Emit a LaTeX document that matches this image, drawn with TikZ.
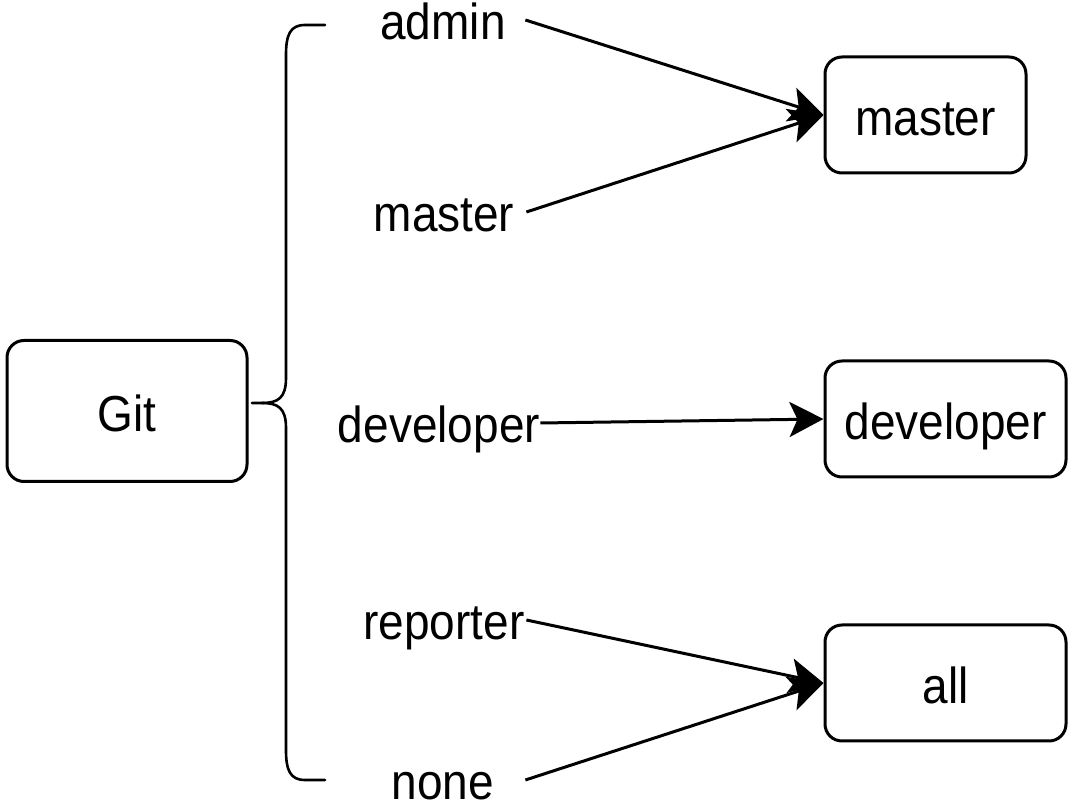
\documentclass[tikz,border=0pt]{standalone}
\usepackage{fontspec}
\setmainfont{Liberation Sans}
\usetikzlibrary{arrows.meta}
\newcommand{\stretchtxt}[1]{\scalebox{1}[1.1]{#1}}
\begin{document}
\begin{tikzpicture}[x=0.5pt,y=-0.5pt,
  box/.style={draw, line width=1.5pt, rounded corners=8.5pt, inner sep=0pt,
    text height=25pt, text depth=4pt, font=\fontsize{23}{27}\selectfont},
  lbl/.style={inner sep=0pt, minimum width=82pt, text height=25pt, text depth=5pt,
    font=\fontsize{23}{27}\selectfont},
  conn/.style={line width=1.5pt, -{Stealth[length=17pt,width=17.5pt,inset=4pt]}},
  bracestyle/.style={line width=1.3pt, line cap=round}]
\useasboundingbox (0,0) rectangle (1078,812);

% boxes
\node[box, minimum width=120pt, minimum height=70.5pt] (git) at (127,411) {\stretchtxt{Git}};
\node[box, minimum width=100.5pt, minimum height=58pt] (bmaster) at (925.5,115) {\stretchtxt{master}};
\node[box, minimum width=120.5pt, minimum height=58pt] (bdev) at (945.5,419) {\stretchtxt{developer}};
\node[box, minimum width=120.5pt, minimum height=58pt] (ball) at (945.5,683) {\stretchtxt{all}};

% labels
\node[lbl] (ladmin) at (443,20) {\stretchtxt{admin}};
\node[lbl] (lmaster) at (444,212) {\stretchtxt{master}};
\node[lbl] (ldev) at (439,423) {\stretchtxt{developer}};
\node[lbl] (lrep) at (444,620) {\stretchtxt{reporter}};
\node[lbl] (lnone) at (443,780) {\stretchtxt{none}};

% brace
\draw[bracestyle] (325,25) -- (305,25) .. controls (290,25) and (286,35) .. (286,55)
  -- (286,378) .. controls (286,398) and (278,403) .. (262,403) -- (252,403);
\draw[bracestyle] (262,403) .. controls (278,403) and (286,408) .. (286,428)
  -- (286,750) .. controls (286,770) and (290,780) .. (305,780) -- (325,780);

% connectors
\draw[conn] (ladmin.east) -- (bmaster.west);
\draw[conn] (lmaster.east) -- (bmaster.west);
\draw[conn] (ldev.east) -- (bdev.west);
\draw[conn] (lrep.east) -- (ball.west);
\draw[conn] (lnone.east) -- (ball.west);
\end{tikzpicture}
\end{document}
